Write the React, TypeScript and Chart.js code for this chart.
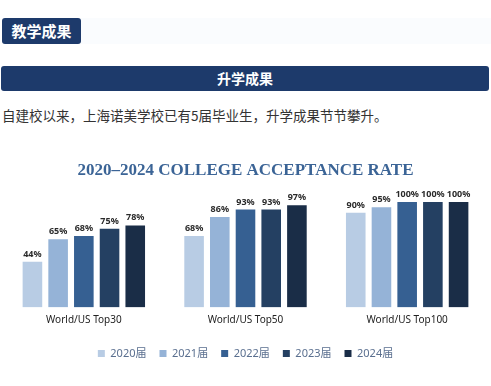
import React, { useEffect, useRef } from "react";
import { Chart, registerables } from "chart.js";

Chart.register(...registerables);

const categories = ["World/US Top30", "World/US Top50", "World/US Top100"];
const seriesNames = ["2020届", "2021届", "2022届", "2023届", "2024届"];
const s2020 = [44, 68, 90];
const s2021 = [65, 86, 95];
const s2022 = [68, 93, 100];
const s2023 = [75, 93, 100];
const s2024 = [78, 97, 100];
const seriesValues = [s2020, s2021, s2022, s2023, s2024];
const seriesColors = ["#b8cce4", "#95b3d7", "#366092", "#244062", "#1a2d47"];
const chartTitle = "2020–2024 COLLEGE ACCEPTANCE RATE";

const valueLabels = {
  id: "valueLabels",
  afterDatasetsDraw(chart: any) {
    const ctx = chart.ctx;
    ctx.save();
    ctx.font = "bold 9px 'Noto Sans', 'Liberation Sans', sans-serif";
    ctx.fillStyle = "#2a2a2a";
    ctx.textAlign = "center";
    ctx.textBaseline = "bottom";
    chart.data.datasets.forEach((ds: any, i: number) => {
      const meta = chart.getDatasetMeta(i);
      meta.data.forEach((el: any, j: number) => {
        ctx.fillText(ds.data[j] + "%", el.x, el.y - 2);
      });
    });
    ctx.restore();
  },
};

function ChartBlock() {
  const ref = useRef<HTMLCanvasElement | null>(null);
  useEffect(() => {
    if (!ref.current) return;
    const chart = new Chart(ref.current, {
      type: "bar",
      data: {
        labels: categories,
        datasets: seriesNames.map((name, i) => ({
          label: name,
          data: seriesValues[i],
          backgroundColor: seriesColors[i],
          borderColor: "rgba(255,255,255,0.35)",
          borderWidth: 1,
          barPercentage: 0.84,
          categoryPercentage: 0.795,
        })),
      },
      options: {
        responsive: false,
        animation: false,
        devicePixelRatio: 1,
        layout: { padding: { left: 3, right: 3, top: 0, bottom: 17 } },
        plugins: {
          title: {
            display: true,
            text: chartTitle,
            color: "#3b6496",
            font: { family: "'Liberation Serif', serif", size: 17, weight: "bold" },
            padding: { top: 20.6, bottom: 20 },
          },
          legend: {
            position: "bottom",
            labels: {
              boxWidth: 7,
              boxHeight: 7,
              padding: 13,
              color: "#5a6f8f",
              font: { size: 11, family: "'Noto Sans', 'Noto Sans CJK SC', sans-serif" },
              generateLabels: (c: any) =>
                (Chart.defaults.plugins.legend.labels.generateLabels as any)(c).map((l: any) => ({
                  ...l,
                  lineWidth: 0,
                })),
            },
          },
          tooltip: { enabled: false },
        },
        scales: {
          x: {
            grid: { display: false, drawTicks: false },
            border: { display: false },
            ticks: {
              padding: 6.5,
              color: "#222222",
              font: { size: 10, family: "'Noto Sans', sans-serif" },
            },
            afterFit: (scale: any) => {
              scale.height += 2.5;
            },
          },
          y: { display: false, min: 0, max: 100 },
        },
      } as any,
      plugins: [valueLabels],
    });
    return () => chart.destroy();
  }, []);
  return (
    <canvas
      ref={ref}
      width={491}
      height={246}
      style={{ position: "absolute", left: 0, top: 140, width: 491, height: 246 }}
    />
  );
}

export default function App() {
  const cjk = "'Noto Sans CJK SC', 'Noto Sans', sans-serif";
  return (
    <div style={{ position: "absolute", left: 0, top: 0, width: 491, height: 386, background: "#ffffff", fontFamily: cjk }}>
      <div style={{ position: "absolute", left: 81, top: 18, right: 0, height: 26, background: "#fafcfe" }} />
      <div
        style={{
          position: "absolute",
          left: 2,
          top: 18,
          width: 79,
          height: 26,
          background: "#1d3a6b",
          borderRadius: 3,
          color: "#ffffff",
          fontWeight: "bold",
          fontSize: 15,
          lineHeight: "26px",
          textAlign: "center",
        }}
      >
        教学成果
      </div>
      <div
        style={{
          position: "absolute",
          left: 1,
          top: 66,
          width: 488,
          height: 25,
          background: "#1d3a6b",
          borderRadius: 3,
          color: "#ffffff",
          fontWeight: "bold",
          fontSize: 14,
          lineHeight: "25px",
          textAlign: "center",
        }}
      >
        升学成果
      </div>
      <div
        style={{
          position: "absolute",
          left: 2,
          top: 106,
          fontSize: 13.5,
          lineHeight: "18px",
          color: "#333333",
          whiteSpace: "nowrap",
        }}
      >
        自建校以来，上海诺美学校已有5届毕业生，升学成果节节攀升。
      </div>
      <ChartBlock />
    </div>
  );
}
